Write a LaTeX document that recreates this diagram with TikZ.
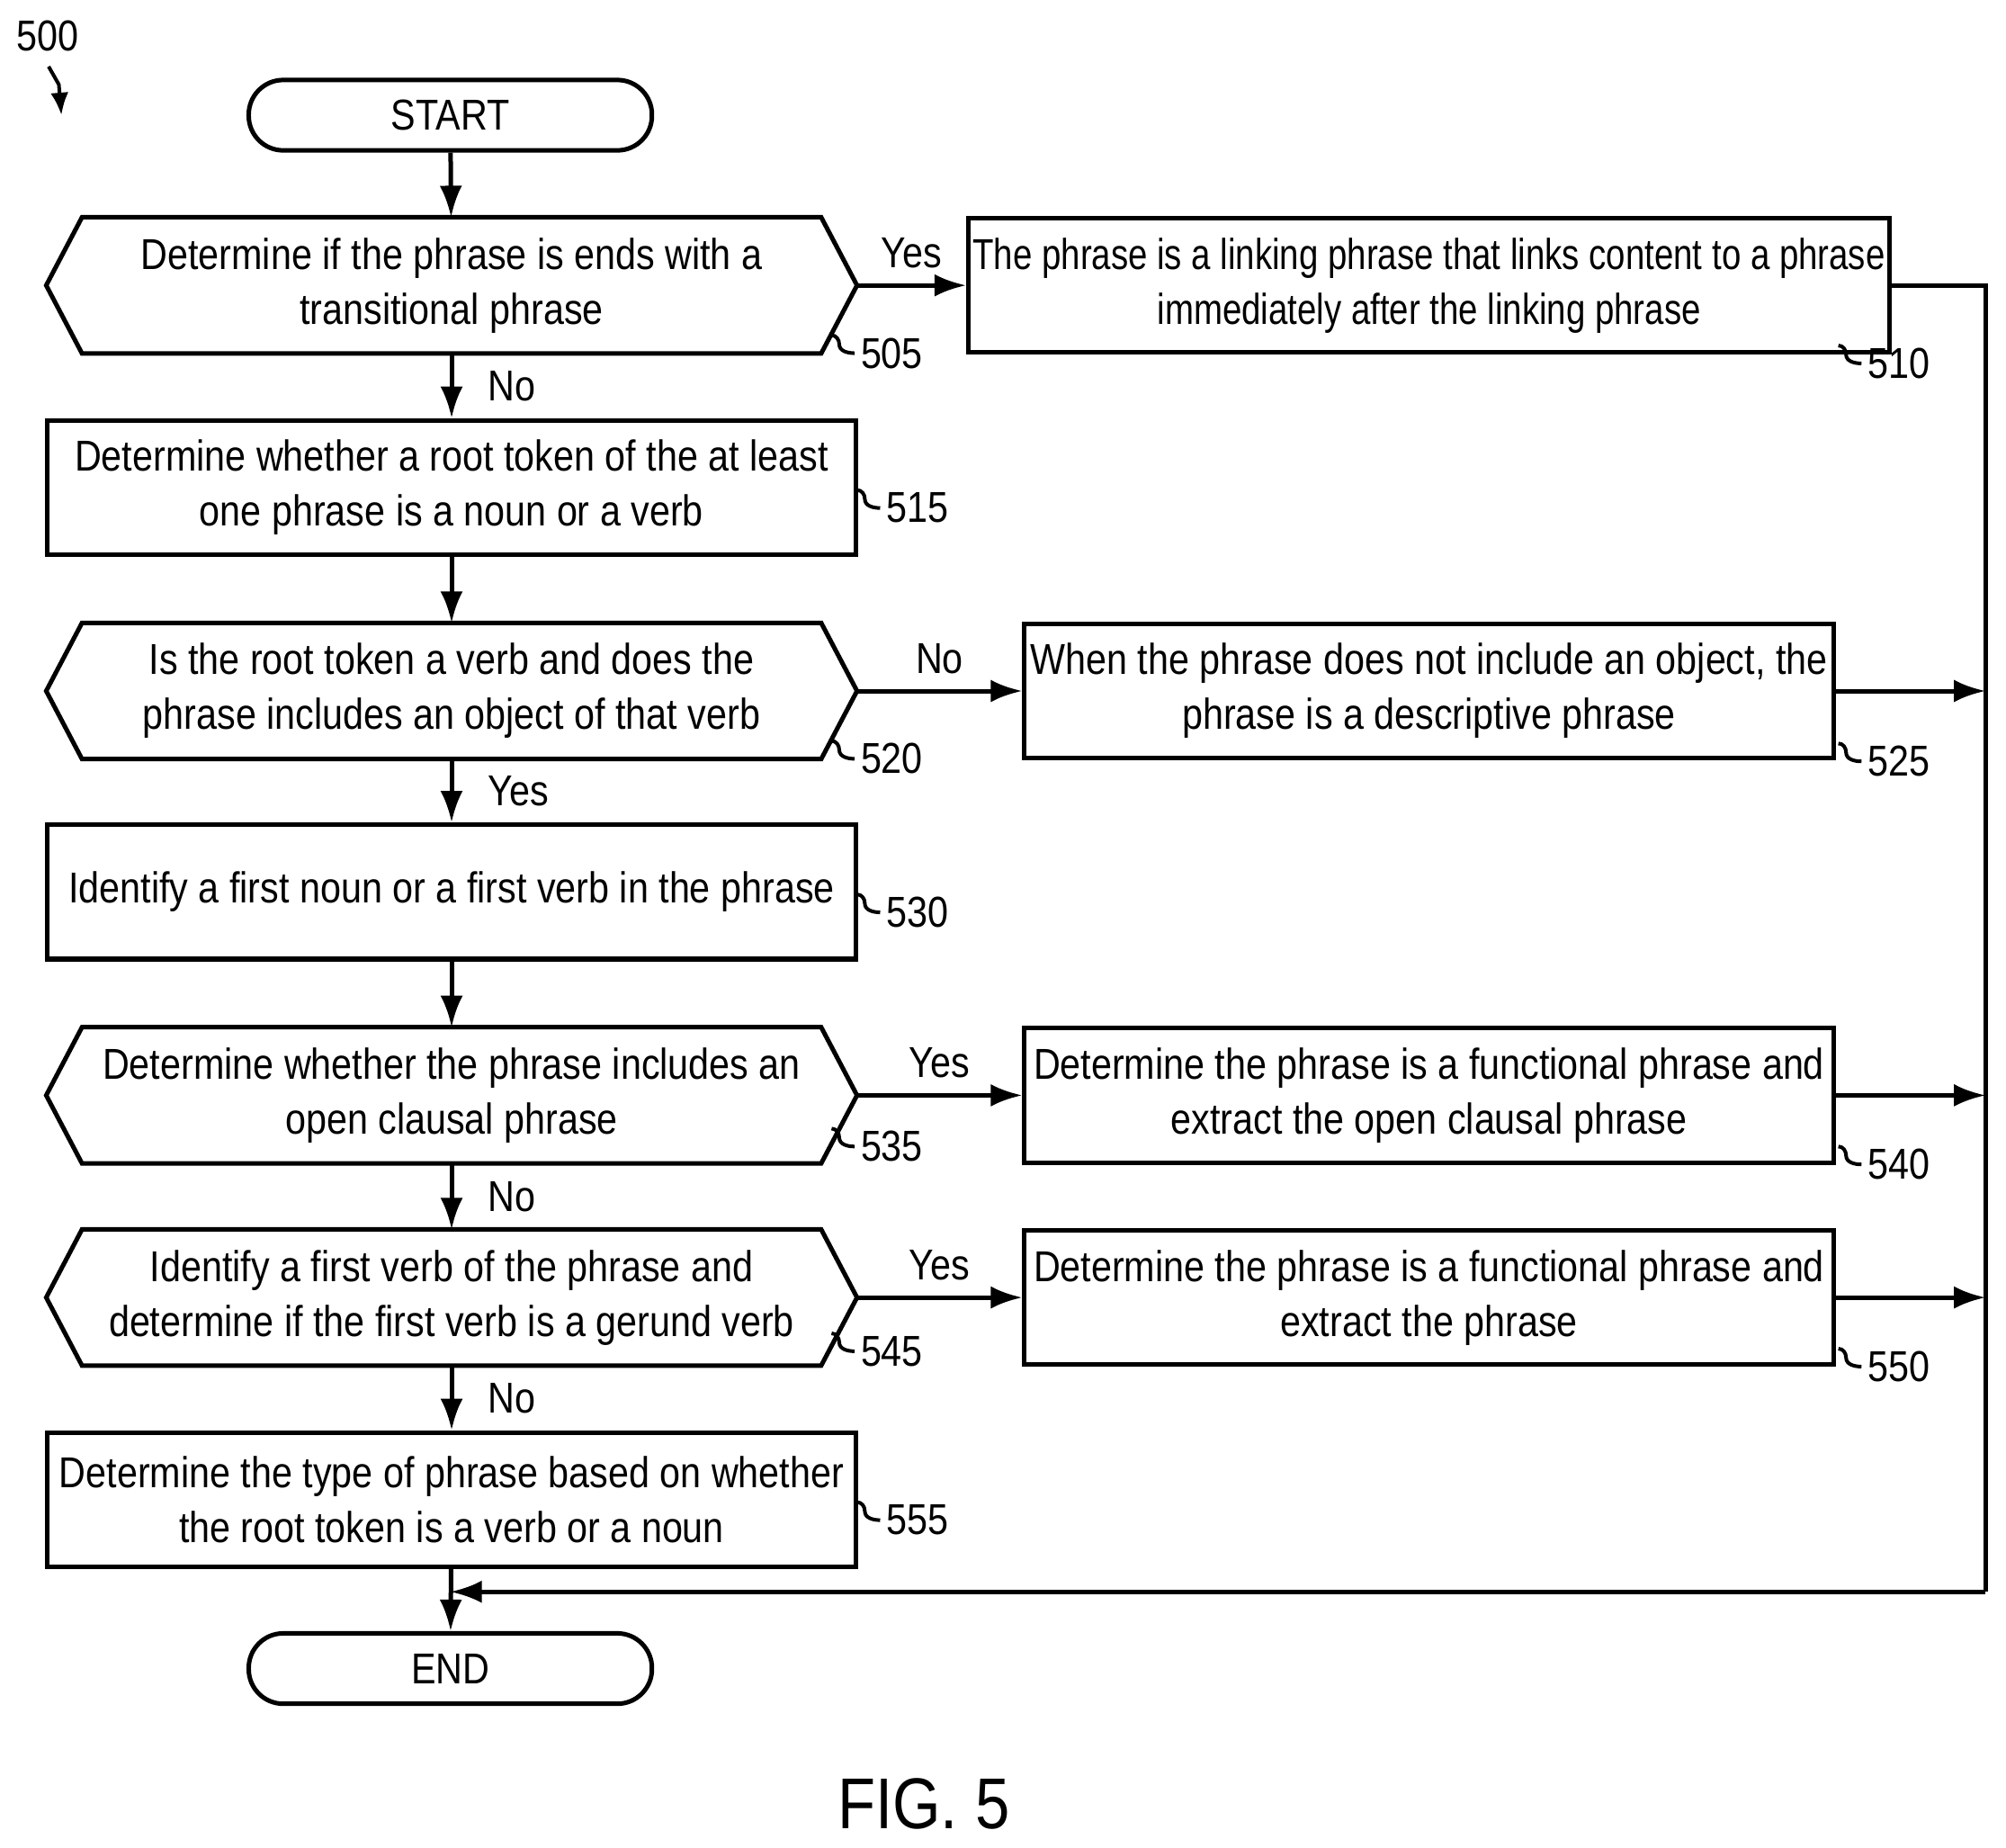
\documentclass[tikz,border=0pt]{standalone}
\usepackage{fontspec}
\setmainfont{Liberation Sans}[FakeStretch=0.86]
\usetikzlibrary{positioning,calc,arrows.meta}
\tikzset{
  blk/.style={rectangle,draw,line width=1pt,minimum width=6.32cm,minimum height=1.05cm,align=center,font=\fontsize{9.6}{12.2}\selectfont,inner sep=1pt},
  dec/.style={rectangle,minimum width=6.32cm,minimum height=1.05cm,align=center,font=\fontsize{9.6}{12.2}\selectfont,inner sep=1pt},
  term/.style={rectangle,rounded corners=0.27cm,draw,line width=1pt,minimum width=3.15cm,minimum height=0.55cm,font=\fontsize{9.6}{12}\selectfont},
  flow/.style={-{Latex[length=7pt,width=5pt]},line width=1pt},
  lbl/.style={font=\fontsize{9.6}{12}\selectfont},
}
% hexagon outline around a named node
\newcommand{\hexline}[1]{%
  \draw[line width=1pt] (#1.west) -- ($(#1.north west)+(28,0)$) -- ($(#1.north east)+(-28,0)$)
    -- (#1.east) -- ($(#1.south east)+(-28,0)$) -- ($(#1.south west)+(28,0)$) -- cycle;}
% reference numeral with squiggle
\newcommand{\refno}[2]{%
  \draw[line width=0.8pt] (#1) to[out=0,in=90] ++(6,7) to[out=-90,in=180] ++(12,7)
    node[right,inner sep=1pt,lbl] {#2};}
\begin{document}
\begin{tikzpicture}[x=0.01cm,y=-0.01cm]
\useasboundingbox (0,0) rectangle (1568,1444);
% figure number
\node[lbl] (fig) at (37,28) {500};
\draw[line width=0.8pt,-{Latex[length=5pt,width=4pt]}] (38,52) to[out=-60,in=120] (46,66) -- (48,90);

\node[term] (start) at (352,90) {START};
\node[dec] (d505) at (353,223) {Determine if the phrase is ends with a\\transitional phrase};
\hexline{d505}
\node[blk] (b510) at (1117,223) {\addfontfeature{FakeStretch=0.8}The phrase is a linking phrase that links content to a phrase\\\addfontfeature{FakeStretch=0.8}immediately after the linking phrase};
\node[blk] (b515) at (353,381) {Determine whether a root token of the at least\\one phrase is a noun or a verb};
\node[dec] (d520) at (353,540) {Is the root token a verb and does the\\phrase includes an object of that verb};
\hexline{d520}
\node[blk] (b525) at (1117,540) {When the phrase does not include an object, the\\phrase is a descriptive phrase};
\node[blk] (b530) at (353,697) {Identify a first noun or a first verb in the phrase};
\node[dec] (d535) at (353,856) {Determine whether the phrase includes an\\open clausal phrase};
\hexline{d535}
\node[blk] (b540) at (1117,856) {Determine the phrase is a functional phrase and\\extract the open clausal phrase};
\node[dec] (d545) at (353,1014) {Identify a first verb of the phrase and\\determine if the first verb is a gerund verb};
\hexline{d545}
\node[blk] (b550) at (1117,1014) {Determine the phrase is a functional phrase and\\extract the phrase};
\node[blk] (b555) at (353,1172) {Determine the type of phrase based on whether\\the root token is a verb or a noun};
\node[term] (end) at (352,1304) {END};
\node[font=\fontsize{16}{20}\selectfont] (title) at (722,1410) {FIG. 5};

% connectors
\coordinate (r510) at (1552,223);
\coordinate (r525) at (1552,540);
\coordinate (r540) at (1552,856);
\coordinate (r550) at (1552,1014);
\coordinate (rbot) at (1552,1244);
\coordinate (merge) at (352,1244);
\draw[flow] (start) -- (d505);
\draw[flow] (d505) -- node[lbl,above] {Yes} (b510);
\draw[flow] (d505) -- node[lbl,right,xshift=0.15cm] {No} (b515);
\draw[flow] (b515) -- (d520);
\draw[flow] (d520) -- node[lbl,above] {No} (b525);
\draw[flow] (d520) -- node[lbl,right,xshift=0.15cm] {Yes} (b530);
\draw[flow] (b530) -- (d535);
\draw[flow] (d535) -- node[lbl,above] {Yes} (b540);
\draw[flow] (d535) -- node[lbl,right,xshift=0.15cm] {No} (d545);
\draw[flow] (d545) -- node[lbl,above] {Yes} (b550);
\draw[flow] (d545) -- node[lbl,right,xshift=0.15cm] {No} (b555);
\draw[flow] (b555) -- (end);
\draw[line width=1pt] (b510) -- (r510) -- (rbot);
\draw[flow] (rbot) -- (merge);
\draw[flow] (b525) -- (r525);
\draw[flow] (b540) -- (r540);
\draw[flow] (b550) -- (r550);

% reference numerals
\refno{650,262}{505}
\refno{1437,270}{510}
\refno{670,383}{515}
\refno{650,579}{520}
\refno{1437,581}{525}
\refno{670,699}{530}
\refno{650,882}{535}
\refno{1437,896}{540}
\refno{650,1042}{545}
\refno{1437,1054}{550}
\refno{670,1174}{555}
\end{tikzpicture}
\end{document}
